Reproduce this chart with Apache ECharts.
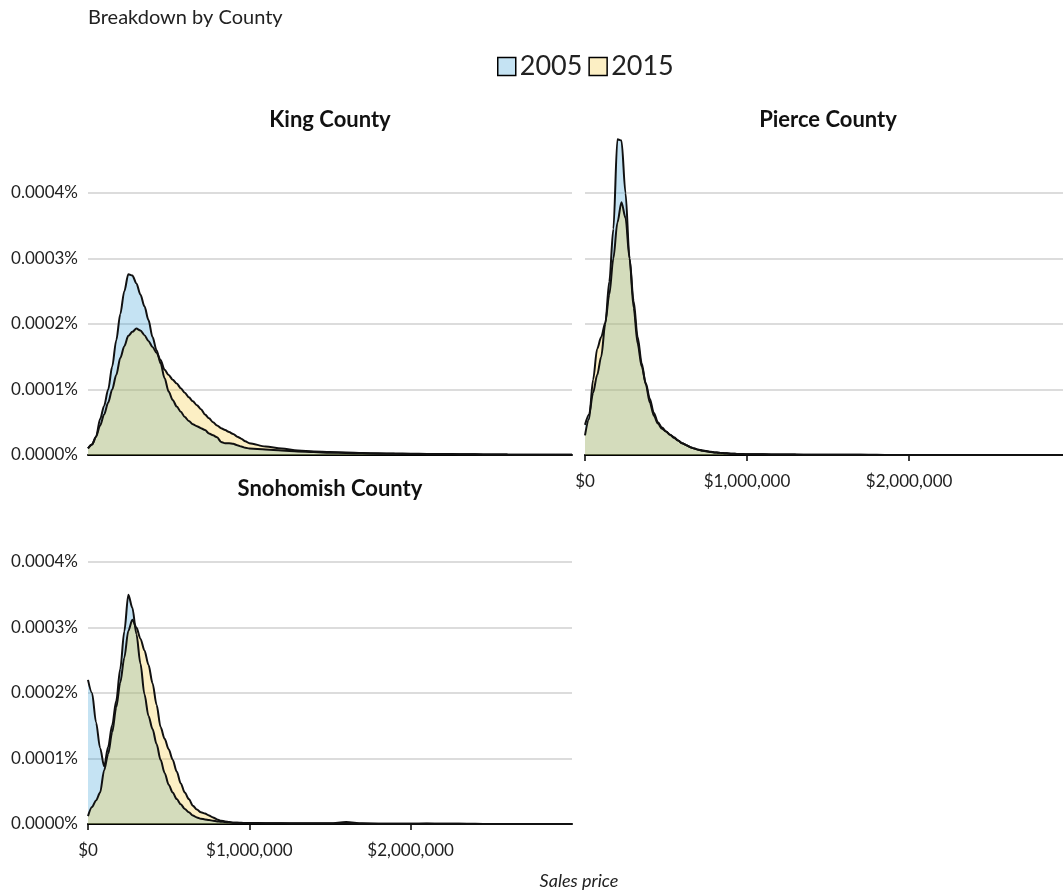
<!DOCTYPE html>
<html>
<head>
<meta charset="utf-8">
<script src="https://cdn.jsdelivr.net/npm/echarts@6/dist/echarts.min.js"></script>
<style>
  html, body { margin: 0; padding: 0; background: #fff; }
  #chart { width: 1063px; height: 896px; }
</style>
</head>
<body>
<div id="chart"></div>
<script>
// sale price grid, in thousands of dollars
const priceK = [0, 25, 50, 75, 100, 125, 150, 175, 200, 225, 250, 275, 300, 325, 350, 375, 400, 425, 450, 475,
  500, 525, 550, 575, 600, 625, 650, 675, 700, 725, 750, 775, 800, 825, 850, 875, 900, 925, 950, 975, 1000,
  1100, 1200, 1300, 1400, 1500, 1600, 1700, 1800, 1900, 2000, 2100, 2200, 2300, 2400, 2500, 2600, 2700, 2800, 2900, 3000];

// density, in units of 0.0001%
const king2005 = [0.10, 0.16, 0.28, 0.55, 0.75, 1.00, 1.35, 1.75, 2.15, 2.50, 2.76, 2.74, 2.62, 2.45, 2.27, 2.06, 1.80, 1.60, 1.40, 1.17,
  0.97, 0.84, 0.74, 0.66, 0.58, 0.52, 0.47, 0.44, 0.41, 0.38, 0.33, 0.30, 0.27, 0.20, 0.18, 0.18, 0.17, 0.15, 0.13, 0.11, 0.10,
  0.085, 0.07, 0.055, 0.045, 0.035, 0.03, 0.025, 0.02, 0.018, 0.015, 0.013, 0.012, 0.011, 0.01, 0.008, 0.006, 0.005, 0.004, 0.003, 0.002];
const king2015 = [0.10, 0.16, 0.28, 0.45, 0.62, 0.80, 1.00, 1.22, 1.48, 1.66, 1.82, 1.88, 1.93, 1.90, 1.83, 1.74, 1.65, 1.56, 1.45, 1.30,
  1.22, 1.15, 1.09, 1.02, 0.95, 0.88, 0.82, 0.76, 0.70, 0.62, 0.56, 0.50, 0.45, 0.41, 0.38, 0.35, 0.32, 0.28, 0.25, 0.21, 0.18,
  0.13, 0.10, 0.07, 0.055, 0.045, 0.04, 0.03, 0.025, 0.022, 0.02, 0.017, 0.015, 0.012, 0.01, 0.008, 0.006, 0.005, 0.004, 0.003, 0.002];
const pierce2005 = [0.46, 0.62, 0.95, 1.22, 1.50, 2.00, 2.65, 3.45, 4.82, 4.80, 4.00, 3.00, 2.25, 1.70, 1.35, 1.10, 0.86, 0.64, 0.50, 0.42,
  0.36, 0.31, 0.26, 0.22, 0.18, 0.15, 0.12, 0.10, 0.08, 0.065, 0.055, 0.045, 0.04, 0.035, 0.03, 0.025, 0.02, 0.018, 0.016, 0.014, 0.012,
  0.01, 0.008, 0.006, 0.004, 0.003, 0.002, 0.002, 0.001, 0.001, 0.001, 0, 0, 0, 0, 0, 0, 0, 0, 0, 0];
const pierce2015 = [0.30, 0.55, 1.15, 1.62, 1.80, 2.02, 2.45, 3.00, 3.55, 3.86, 3.62, 3.00, 2.35, 1.80, 1.40, 1.08, 0.80, 0.60, 0.48, 0.40,
  0.36, 0.31, 0.27, 0.22, 0.18, 0.15, 0.12, 0.10, 0.08, 0.07, 0.06, 0.05, 0.04, 0.035, 0.03, 0.025, 0.02, 0.018, 0.016, 0.014, 0.012,
  0.01, 0.008, 0.006, 0.005, 0.004, 0.003, 0.002, 0.002, 0.001, 0.001, 0.001, 0, 0, 0, 0, 0, 0, 0, 0, 0];
const snoh2005 = [2.20, 2.00, 1.55, 1.16, 0.88, 1.18, 1.51, 1.88, 2.37, 2.94, 3.50, 3.30, 2.90, 2.45, 1.98, 1.65, 1.45, 1.22, 0.98, 0.78,
  0.60, 0.48, 0.38, 0.30, 0.23, 0.18, 0.13, 0.10, 0.08, 0.07, 0.06, 0.05, 0.04, 0.035, 0.03, 0.025, 0.02, 0.02, 0.018, 0.016, 0.015,
  0.012, 0.012, 0.01, 0.01, 0.01, 0.03, 0.01, 0.005, 0.005, 0.004, 0.006, 0.003, 0.002, 0.002, 0.001, 0.001, 0.001, 0, 0, 0];
const snoh2015 = [0.12, 0.26, 0.36, 0.48, 0.82, 1.07, 1.40, 1.78, 2.16, 2.54, 2.95, 3.12, 3.00, 2.83, 2.65, 2.43, 2.15, 1.82, 1.48, 1.30,
  1.14, 0.98, 0.80, 0.62, 0.48, 0.38, 0.28, 0.22, 0.18, 0.16, 0.13, 0.10, 0.07, 0.05, 0.04, 0.03, 0.02, 0.018, 0.016, 0.014, 0.012,
  0.01, 0.01, 0.008, 0.008, 0.006, 0.006, 0.005, 0.004, 0.004, 0.003, 0.003, 0.002, 0.002, 0.001, 0.001, 0.001, 0, 0, 0, 0];

const years = ['2005', '2015'];
const counties = ['King County', 'Pierce County', 'Snohomish County'];
const xTicks = [0, 1000, 2000];

const fill2005 = 'rgba(62,162,216,0.3)';
const fill2015 = 'rgba(245,202,58,0.3)';
const font = 'Lato';

const pairs = vals => priceK.map((p, i) => [p, vals[i]]);
const money = v => '$' + (v * 1000).toLocaleString('en-US');
const pct = v => (v / 10000).toFixed(4) + '%';

// one grid per county panel
const grids = [
  { left: 88, right: 491, top: 137, bottom: 441 },
  { left: 585, right: 0, top: 137, bottom: 441 },
  { left: 88, right: 491, top: 506, bottom: 72 }
];
const xMax = [3000, 2950, 3000];
const showX = [false, true, true];
const showY = [true, false, true];

const xAxes = grids.map((g, i) => ({
  type: 'value', gridIndex: i, min: 0, max: xMax[i], interval: 1000,
  axisLine: { show: true, onZero: false, lineStyle: { color: '#000', width: 2 } },
  axisTick: { show: showX[i], customValues: xTicks, length: 6, lineStyle: { color: '#000', width: 1.5 } },
  axisLabel: { show: showX[i], customValues: xTicks, formatter: money, fontFamily: font, fontSize: 17, color: '#222', margin: 18 },
  splitLine: { show: false }
}));

const yAxes = grids.map((g, i) => ({
  type: 'value', gridIndex: i, min: 0, max: 4.855, interval: 1,
  axisLine: { show: false }, axisTick: { show: false },
  axisLabel: { show: showY[i], formatter: pct, showMaxLabel: false, fontFamily: font, fontSize: 17, color: '#222', margin: 10 },
  splitLine: { show: true, showMinLine: false, showMaxLine: false, lineStyle: { color: '#dcdcdc', width: 2 } }
}));

const mk = (name, idx, vals, fill) => ({
  name: name, type: 'line', xAxisIndex: idx, yAxisIndex: idx,
  data: pairs(vals), showSymbol: false, smooth: 0.3, smoothMonotone: 'x',
  color: fill,
  lineStyle: { color: '#111', width: 2 },
  areaStyle: { color: fill, opacity: 1 },
  emphasis: { disabled: true }
});

const series = [
  mk('2005', 0, king2005, fill2005),
  mk('2005', 1, pierce2005, fill2005),
  mk('2005', 2, snoh2005, fill2005),
  mk('2015', 0, king2015, fill2015),
  mk('2015', 1, pierce2015, fill2015),
  mk('2015', 2, snoh2015, fill2015)
];

const titleCenters = [[330, 109], [828, 109], [330, 478]];

const chart = echarts.init(document.getElementById('chart'), null, { renderer: 'canvas' });
chart.setOption({
  animation: false,
  textStyle: { fontFamily: font },
  title: [
    { text: 'Breakdown by County', left: 88, top: 8, padding: 0,
      textStyle: { fontFamily: font, fontSize: 20, fontWeight: 'normal', color: '#222' } },
    ...counties.map((c, i) => ({
      text: c, left: titleCenters[i][0], top: titleCenters[i][1], textAlign: 'center', padding: 0,
      textStyle: { fontFamily: font, fontSize: 22, fontWeight: 'bold', color: '#111' }
    })),
    { text: 'Sales price', left: 579, top: 872, textAlign: 'center', padding: 0,
      textStyle: { fontFamily: font, fontSize: 18, fontStyle: 'italic', fontWeight: 'normal', color: '#222' } }
  ],
  legend: {
    left: 497, top: 53, padding: 0, itemGap: 6, itemWidth: 18, itemHeight: 18,
    icon: 'rect',
    textStyle: { fontFamily: font, fontSize: 27, color: '#222', padding: [2, 0, 0, -1] },
    data: [
      { name: years[0], itemStyle: { color: fill2005, borderColor: '#000', borderWidth: 1.5 } },
      { name: years[1], itemStyle: { color: fill2015, borderColor: '#000', borderWidth: 1.5 } }
    ]
  },
  grid: grids,
  xAxis: xAxes,
  yAxis: yAxes,
  series: series
});
</script>
</body>
</html>
